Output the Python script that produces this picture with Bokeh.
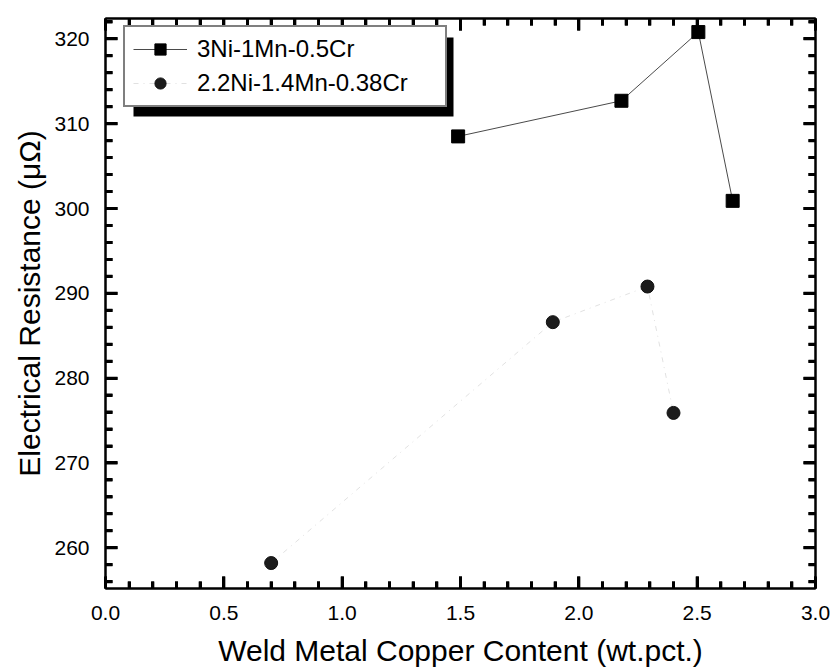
from bokeh.plotting import figure
from bokeh.models import (Range1d, FixedTicker, LinearAxis, Legend, LegendItem,
                          CustomJSTickFormatter, Title)
from bokeh.embed import file_html
from bokeh.resources import INLINE

# ---- data ----
cu_3ni = [1.49, 2.18, 2.505, 2.65]
res_3ni = [308.5, 312.7, 320.8, 300.9]
cu_22ni = [0.70, 1.89, 2.29, 2.40]
res_22ni = [258.2, 286.6, 290.8, 275.9]

series_names = ["3Ni-1Mn-0.5Cr", "2.2Ni-1.4Mn-0.38Cr"]
x_ticks = [0.0, 0.5, 1.0, 1.5, 2.0, 2.5, 3.0]
x_tick_labels = ["0.0", "0.5", "1.0", "1.5", "2.0", "2.5", "3.0"]
y_ticks = [260, 270, 280, 290, 300, 310, 320]
y_tick_labels = ["260", "270", "280", "290", "300", "310", "320"]
x_minor_ticks = [round(i * 0.1, 2) for i in range(0, 31) if i % 5 != 0]
y_minor_ticks = [v for v in range(256, 323, 2) if v % 10 != 0]
x_title = "Weld Metal Copper Content (wt.pct.)"
y_title = "Electrical Resistance (\u03bc\u03a9)"

FONT = "Liberation Sans"
X0, X1 = 0.0, 3.0
Y0, Y1 = 255.2, 322.4
FW, FH = 710, 570

p = figure(frame_width=FW, frame_height=FH,
           x_range=Range1d(X0, X1), y_range=Range1d(Y0, Y1),
           output_backend="svg", toolbar_location=None,
           min_border_left=105, min_border_right=18,
           min_border_top=18, min_border_bottom=83,
           background_fill_color="white", border_fill_color="white")
p.xgrid.visible = False
p.ygrid.visible = False
p.outline_line_color = "black"
p.outline_line_width = 2

MAJ, MIN = 12, 7   # tick lengths in pixels


def style_axis(ax, ticks, minor, labels=None):
    ax.ticker = FixedTicker(ticks=ticks, minor_ticks=minor)
    ax.axis_line_color = "black"
    ax.axis_line_width = 2
    ax.major_tick_line_color = "black"
    ax.minor_tick_line_color = "black"
    ax.major_tick_line_width = 3
    ax.minor_tick_line_width = 3
    ax.major_tick_in = MAJ
    ax.major_tick_out = 0
    ax.minor_tick_in = MIN
    ax.minor_tick_out = 0
    if labels is not None:
        ax.major_label_overrides = {t: l for t, l in zip(ticks, labels)}
        ax.major_label_text_font = FONT
        ax.major_label_text_font_size = "21px"
        ax.major_label_text_color = "black"
        ax.axis_label_text_font = FONT
        ax.axis_label_text_font_size = "30px"
        ax.axis_label_text_font_style = "normal"
        ax.axis_label_text_color = "black"


xa = p.xaxis[0]
ya = p.yaxis[0]
style_axis(xa, x_ticks, x_minor_ticks, x_tick_labels)
style_axis(ya, y_ticks, y_minor_ticks, y_tick_labels)
xa.axis_label = x_title
xa.major_label_standoff = 17
xa.axis_label_standoff = 11
ya.major_label_standoff = 16

# y-axis title as a left-side Title so it can sit slightly below centre
p.add_layout(Title(text=y_title, align="center", offset=-50,
                   text_font=FONT, text_font_size="30px",
                   text_font_style="normal", text_color="black",
                   standoff=12), "left")

blank = CustomJSTickFormatter(code="return ''")
top = LinearAxis(formatter=blank)
right = LinearAxis(formatter=blank)
style_axis(top, x_ticks, x_minor_ticks)
style_axis(right, y_ticks, y_minor_ticks)
top.major_label_standoff = 0
right.major_label_standoff = 0
p.add_layout(top, "above")
p.add_layout(right, "right")

# same inward tick marks also as glyphs, identical length, as a fallback
ux = (X1 - X0) / FW   # data units per pixel, x
uy = (Y1 - Y0) / FH   # data units per pixel, y
TICK = dict(line_color="black", line_width=3)


def vticks(xs, y, length_px, direction):
    p.segment(x0=xs, y0=[y] * len(xs), x1=xs,
              y1=[y + direction * length_px * uy] * len(xs), **TICK)


def hticks(ys, x, length_px, direction):
    p.segment(x0=[x] * len(ys), y0=ys, x1=[x + direction * length_px * ux] * len(ys),
              y1=ys, **TICK)


vticks(x_ticks, Y0, MAJ, 1)
vticks(x_minor_ticks, Y0, MIN, 1)
vticks(x_ticks, Y1, MAJ, -1)
vticks(x_minor_ticks, Y1, MIN, -1)
hticks(y_ticks, X0, MAJ, 1)
hticks(y_minor_ticks, X0, MIN, 1)
hticks(y_ticks, X1, MAJ, -1)
hticks(y_minor_ticks, X1, MIN, -1)


# legend shadow (pixel geometry converted to data space)
def sx(px):
    return X0 + px * ux


def sy(px_from_top):
    return Y1 - px_from_top * uy


LEG_L, LEG_T, LEG_W, LEG_H = 18, 13, 320, 76
SH_DX, SH_DY = 10, 9
p.quad(left=[sx(LEG_L + SH_DX)], right=[sx(LEG_L + LEG_W + SH_DX)],
       top=[sy(LEG_T + 6)], bottom=[sy(LEG_T + LEG_H + SH_DY)],
       fill_color="black", line_color=None)

# series
l1 = p.line(cu_3ni, res_3ni, line_color="#4a4a4a", line_width=1)
s1 = p.scatter(cu_3ni, res_3ni, marker="square", size=13,
               fill_color="black", line_color="black")
l2 = p.line(cu_22ni, res_22ni, line_color="#bdbdbd", line_width=1,
            line_dash="5 5 1 5", line_alpha=0.45)
s2 = p.scatter(cu_22ni, res_22ni, marker="circle", size=13,
               fill_color="#1c1c1c", line_color="#111111")

legend = Legend(items=[LegendItem(label=series_names[0], renderers=[l1, s1]),
                       LegendItem(label=series_names[1], renderers=[l2, s2])],
                location=(LEG_L, FH - LEG_T - LEG_H))
legend.margin = 0
legend.padding = 8
legend.spacing = 6
legend.glyph_width = 54
legend.glyph_height = 28
legend.label_height = 27
legend.label_width = 240
legend.label_standoff = 10
legend.label_text_font = FONT
legend.label_text_font_size = "24px"
legend.label_text_color = "black"
legend.border_line_color = "black"
legend.border_line_width = 2
legend.background_fill_color = "white"
legend.background_fill_alpha = 1.0
p.add_layout(legend)

open("out.html", "w").write(file_html(p, INLINE))
